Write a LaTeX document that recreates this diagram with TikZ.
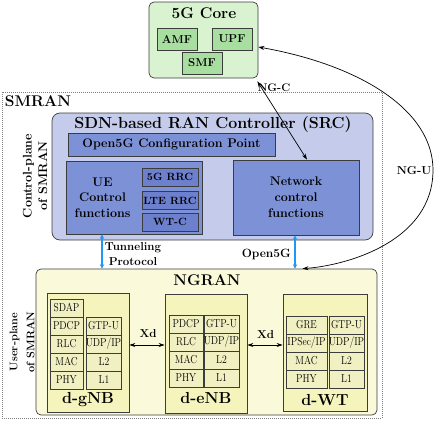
\documentclass[tikz,border=0pt]{standalone}
\usetikzlibrary{arrows.meta,calc}
\definecolor{coreFill}{RGB}{217,242,208}
\definecolor{nfFill}{RGB}{168,222,160}
\definecolor{srcFill}{RGB}{197,203,234}
\definecolor{blueBox}{RGB}{125,145,214}
\definecolor{rrcFill}{RGB}{108,128,206}
\definecolor{ngranFill}{RGB}{250,250,218}
\definecolor{dFill}{RGB}{244,244,188}
\definecolor{cellFill}{RGB}{240,240,194}
\definecolor{arrowBlue}{RGB}{33,150,243}
\definecolor{edge}{RGB}{60,60,60}
\newcommand\condtxt[1]{\scalebox{0.84}[1]{#1}}
\begin{document}
\begin{tikzpicture}[x=1pt,y=-1pt,
  bd/.style={draw=edge, line width=0.7pt, inner sep=0pt},
  corebox/.style={bd, rounded corners=5pt, fill=coreFill},
  nfbox/.style={bd, fill=nfFill, minimum width=40pt, minimum height=22pt, font=\bfseries\fontsize{11.5}{13}\selectfont},
  smranbox/.style={draw=black!50, line width=0.6pt, dash pattern=on 1pt off 1pt, inner sep=0pt},
  srcbox/.style={bd, rounded corners=8pt, fill=srcFill},
  bluebox/.style={bd, fill=blueBox},
  rrcbox/.style={bd, fill=rrcFill, minimum width=56pt, minimum height=18pt, font=\bfseries\fontsize{10.5}{12}\selectfont},
  ngranbox/.style={bd, rounded corners=5pt, fill=ngranFill},
  dbox/.style={bd, fill=dFill},
  cell/.style={draw=edge, line width=0.5pt, fill=cellFill, inner sep=0pt, minimum height=18pt, font=\fontsize{11.5}{12}\selectfont},
  title/.style={inner sep=0pt, font=\bfseries\fontsize{15.5}{18}\selectfont},
  bigtitle/.style={inner sep=0pt, font=\bfseries\fontsize{16}{19}\selectfont},
  txt/.style={inner sep=0pt, font=\bfseries\fontsize{12.5}{15.5}\selectfont},
  lbl/.style={inner sep=0pt, font=\bfseries\fontsize{11.5}{14}\selectfont},
  bluearrow/.style={draw=arrowBlue, line width=1.6pt, {Stealth[length=4.5pt,width=4.5pt]}-{Stealth[length=4.5pt,width=4.5pt]}},
  blackarrow/.style={draw=black, line width=0.7pt, {Stealth[length=6pt,width=4pt]}-{Stealth[length=6pt,width=4pt]}}
]
\useasboundingbox (0,0) rectangle (436,421);

% 5G core
\node[corebox, minimum width=109pt, minimum height=76pt] (core) at (203.5,40) {};
\node[title, anchor=base] (coret) at (204,18.5) {5G Core};
\node[nfbox] (amf) at (177,39) {AMF};
\node[nfbox] (upf) at (232,39) {UPF};
\node[nfbox] (smf) at (202,63) {SMF};

% SMRAN
\node[smranbox, minimum width=380pt, minimum height=326pt] (smran) at (192,255) {};
\node[title, anchor=base] (smranl) at (38,106) {SMRAN};

% SRC
\node[srcbox, minimum width=321pt, minimum height=127pt] (src) at (212.5,176.5) {};
\node[bigtitle, anchor=base] (srct) at (213,128) {SDN-based RAN Controller (SRC)};
\node[bluebox, minimum width=207pt, minimum height=23pt, font=\bfseries\fontsize{12.5}{14}\selectfont] (cfg) at (171.5,144.5) {Open5G Configuration Point};
\node[bluebox, minimum width=136pt, minimum height=73pt] (ue) at (134,197.5) {};
\node[txt, align=center] (uet) at (102.5,197.5) {UE\\Control\\functions};
\node[rrcbox] (rrc5) at (170,177) {5G RRC};
\node[rrcbox] (rrclte) at (170,200.5) {LTE RRC};
\node[rrcbox] (wtc) at (170,222) {WT-C};
\node[bluebox, minimum width=126pt, minimum height=75pt, align=center, font=\bfseries\fontsize{12.5}{16}\selectfont] (ncf) at (296,197.5) {Network\\control\\functions};
\node[txt, rotate=90, align=center] (cpl) at (35,176) {Control-plane\\of SMRAN};

% NGRAN
\node[ngranbox, minimum width=341pt, minimum height=146pt] (ngran) at (206.5,342) {};
\node[title, anchor=base] (ngrant) at (207,285) {NGRAN};
\node[rotate=90, align=center, inner sep=0pt, font=\bfseries\fontsize{11}{17}\selectfont] (upl) at (22,342) {User-plane\\of SMRAN};

\node[dbox, minimum width=82pt, minimum height=119pt] (gnb) at (88,353) {};
\node[dbox, minimum width=82pt, minimum height=119pt] (enb) at (206,353.5) {};
\node[dbox, minimum width=84pt, minimum height=117pt] (wt) at (325,353) {};
\node[bigtitle, anchor=base] (gnbl) at (88,403) {d-gNB};
\node[bigtitle, anchor=base] (enbl) at (206,403) {d-eNB};
\node[bigtitle, anchor=base] (wtl) at (325,405) {d-WT};

% d-gNB cells
\node[cell, minimum width=33pt] (g1) at (66.5,308) {\condtxt{SDAP}};
\node[cell, minimum width=33pt] (g2) at (66.5,326) {\condtxt{PDCP}};
\node[cell, minimum width=33pt] (g3) at (66.5,344) {\condtxt{RLC}};
\node[cell, minimum width=33pt] (g4) at (66.5,362) {\condtxt{MAC}};
\node[cell, minimum width=33pt] (g5) at (66.5,380) {\condtxt{PHY}};
\node[cell, minimum width=35pt] (g6) at (103.5,326) {\condtxt{GTP-U}};
\node[cell, minimum width=35pt] (g7) at (103.5,344) {\condtxt{UDP/IP}};
\node[cell, minimum width=35pt] (g8) at (104,362) {\condtxt{L2}};
\node[cell, minimum width=35pt] (g9) at (104,380) {\condtxt{L1}};

% d-eNB cells
\node[cell, minimum width=34pt] (e1) at (186,324) {\condtxt{PDCP}};
\node[cell, minimum width=34pt] (e2) at (186,342) {\condtxt{RLC}};
\node[cell, minimum width=34pt] (e3) at (186,360) {\condtxt{MAC}};
\node[cell, minimum width=34pt] (e4) at (186,378) {\condtxt{PHY}};
\node[cell, minimum width=35pt] (e5) at (221.5,324) {\condtxt{GTP-U}};
\node[cell, minimum width=35pt] (e6) at (221.5,342) {\condtxt{UDP/IP}};
\node[cell, minimum width=35pt] (e7) at (221.5,360) {\condtxt{L2}};
\node[cell, minimum width=35pt] (e8) at (221.5,378) {\condtxt{L1}};

% d-WT cells
\node[cell, minimum width=41pt] (w1) at (306.5,325) {\condtxt{GRE}};
\node[cell, minimum width=41pt] (w2) at (306.5,343) {\condtxt{IPSec/IP}};
\node[cell, minimum width=41pt] (w3) at (306.5,361) {\condtxt{MAC}};
\node[cell, minimum width=41pt] (w4) at (306.5,379) {\condtxt{PHY}};
\node[cell, minimum width=35pt] (w5) at (346.5,325) {\condtxt{GTP-U}};
\node[cell, minimum width=35pt] (w6) at (346.5,343) {\condtxt{UDP/IP}};
\node[cell, minimum width=35pt] (w7) at (346.5,361) {\condtxt{L2}};
\node[cell, minimum width=35pt] (w8) at (346.5,379) {\condtxt{L1}};

% Xd links
\coordinate (xdy) at (0,345);
\draw[blackarrow] (gnb.east |- xdy) -- (enb.west |- xdy);
\draw[blackarrow] (enb.east |- xdy) -- (wt.west |- xdy);
\node[lbl] (xd1) at (148,334) {Xd};
\node[lbl] (xd2) at (265.5,335) {Xd};

% blue links
\coordinate (tx) at (102,250);
\draw[bluearrow] (tx |- ue.south) -- (tx |- ngran.north);
\node[lbl, align=center, font=\bfseries\fontsize{11.5}{15}\selectfont] (tun) at (133,254) {Tunneling\\Protocol};
\coordinate (ox) at (295,250);
\draw[bluearrow] (ox |- ncf.south) -- (ox |- ngran.north);
\node[lbl, anchor=east, font=\bfseries\fontsize{12}{14}\selectfont] (o5g) at (291,254) {Open5G};

% NG-C
\draw[blackarrow] ($(core.south east)+(-1,3)$) -- ($(ncf.north)+(11,0)$);
\node[lbl, font=\bfseries\fontsize{11}{13}\selectfont] (ngc) at (274,88) {NG-C};

% NG-U
\draw[blackarrow] ($(ngran.north)+(96,0)$) .. controls (350,265) and (433,240) .. (433,170) .. controls (433,110) and (360,65) .. ($(core.east)+(0,7)$);
\node[lbl, anchor=east] (ngu) at (431.5,171) {NG-U};
\end{tikzpicture}
\end{document}
